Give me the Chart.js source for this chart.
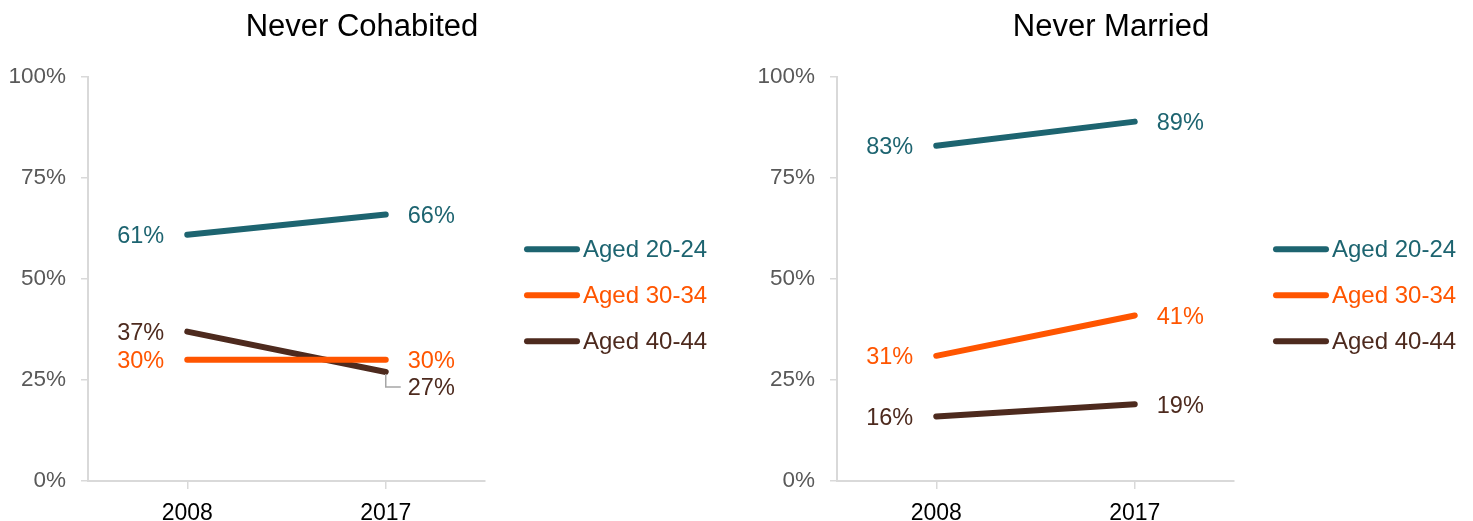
<!DOCTYPE html>
<html>
<head>
<meta charset="utf-8">
<script src="https://cdn.jsdelivr.net/npm/chart.js@4/dist/chart.umd.min.js"></script>
<style>
  body { margin: 0; background: #fff; }
  .panel { position: absolute; top: 0; width: 724px; height: 521px; }
</style>
</head>
<body>
<div class="panel" style="left:0"><canvas id="cohab"></canvas></div>
<div class="panel" style="left:749px"><canvas id="married"></canvas></div>
<script>
const years = ["2008", "2017"];
const groups = ["Aged 20-24", "Aged 30-34", "Aged 40-44"];
const colors = ["#1d6470", "#ff5500", "#4d2a1e"];

// Never cohabited, % by age group
const cohab2024 = [61, 66];
const cohab3034 = [30, 30];
const cohab4044 = [37, 27];

// Never married, % by age group
const married2024 = [83, 89];
const married3034 = [31, 41];
const married4044 = [16, 19];

const FONT = '"Liberation Sans", Arial, sans-serif';

// value labels next to each point
const pointLabels = {
  id: "pointLabels",
  afterDatasetsDraw(chart, args, opts) {
    const ctx = chart.ctx;
    chart.data.datasets.forEach((ds, di) => {
      const meta = chart.getDatasetMeta(di);
      meta.data.forEach((pt, i) => {
        const shift = (opts.shifts[di] || [])[i] || 0;
        const x = i === 0 ? pt.x - 23 : pt.x + 22;
        const y = pt.y + shift;
        ctx.save();
        if (shift) {
          ctx.strokeStyle = "#a6a6a6";
          ctx.lineWidth = 1.5;
          ctx.beginPath();
          ctx.moveTo(pt.x, pt.y + 2);
          ctx.lineTo(pt.x, y);
          ctx.lineTo(x - 7, y);
          ctx.stroke();
        }
        ctx.font = "23.5px " + FONT;
        ctx.fillStyle = ds.borderColor;
        ctx.textAlign = i === 0 ? "right" : "left";
        ctx.textBaseline = "middle";
        ctx.fillText(ds.data[i] + "%", x, y + 2);
        ctx.restore();
      });
    });
  }
};

// legend drawn into the space kept free on the right
const sideLegend = {
  id: "sideLegend",
  afterDraw(chart) {
    const ctx = chart.ctx;
    const x0 = chart.chartArea.right + 42;
    chart.data.datasets.forEach((ds, i) => {
      const y = chart.chartArea.top + 172 + i * 46;
      ctx.save();
      ctx.strokeStyle = ds.borderColor;
      ctx.lineWidth = 6;
      ctx.lineCap = "round";
      ctx.beginPath();
      ctx.moveTo(x0, y);
      ctx.lineTo(x0 + 50, y);
      ctx.stroke();
      ctx.font = "24px " + FONT;
      ctx.fillStyle = ds.borderColor;
      ctx.textBaseline = "middle";
      ctx.fillText(ds.label, x0 + 56, y + 1);
      ctx.restore();
    });
  }
};

function makeChart(id, title, series, shifts) {
  return new Chart(document.getElementById(id), {
    type: "line",
    data: {
      labels: years,
      datasets: series.map((values, i) => ({
        label: groups[i],
        data: values,
        borderColor: colors[i],
        backgroundColor: colors[i],
        borderWidth: 6,
        borderCapStyle: "round",
        pointRadius: 0,
        fill: false
      }))
    },
    options: {
      responsive: true,
      maintainAspectRatio: false,
      animation: false,
      layout: { padding: 0 },
      plugins: {
        legend: { display: false },
        tooltip: { enabled: false },
        title: {
          display: true,
          text: title,
          color: "#000",
          font: { family: FONT, size: 31, weight: "normal" },
          padding: { top: 9, bottom: 31 }
        },
        pointLabels: { shifts: shifts }
      },
      scales: {
        x: {
          offset: true,
          grid: { drawOnChartArea: false, tickLength: 8, color: "#d9d9d9", lineWidth: 1.5 },
          border: { color: "#d9d9d9", width: 2 },
          ticks: { color: "#000", font: { family: FONT, size: 23 }, padding: 11 },
          afterFit: (s) => { s.height = 40; }
        },
        y: {
          min: 0,
          max: 100,
          grid: { drawOnChartArea: false, tickLength: 7, color: "#d9d9d9", lineWidth: 1.5 },
          border: { color: "#d9d9d9", width: 2 },
          ticks: {
            stepSize: 25,
            color: "#595959",
            font: { family: FONT, size: 22.5 },
            padding: 15,
            callback: (v) => v + "%"
          },
          afterFit: (s) => { s.width = 88; }
        },
        side: {
          position: "right",
          grid: { display: false },
          border: { display: false },
          ticks: { display: false },
          afterFit: (s) => { s.width = 239; }
        }
      }
    },
    plugins: [pointLabels, sideLegend]
  });
}

makeChart("cohab", "Never Cohabited", [cohab2024, cohab3034, cohab4044],
  [[0, 0], [0, 0], [0, 15]]);
makeChart("married", "Never Married", [married2024, married3034, married4044],
  [[0, 0], [0, 0], [0, 0]]);
</script>
</body>
</html>
